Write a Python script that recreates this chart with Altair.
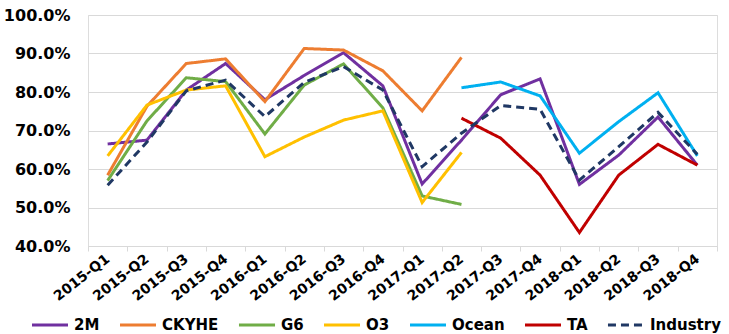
import altair as alt
import pandas as pd

# Quarterly capacity utilisation (%) by alliance, 2015-2018
quarters = [
    "2015-Q1", "2015-Q2", "2015-Q3", "2015-Q4",
    "2016-Q1", "2016-Q2", "2016-Q3", "2016-Q4",
    "2017-Q1", "2017-Q2", "2017-Q3", "2017-Q4",
    "2018-Q1", "2018-Q2", "2018-Q3", "2018-Q4",
]

m2 = [66.5, 67.5, 80.5, 87.4, 78.0, 84.3, 90.2, 81.6,
      56.1, 67.5, 79.3, 83.4, 56.0, 63.6, 73.5, 61.0]
ckyhe = [58.4, 76.3, 87.4, 88.6, 77.5, 91.3, 90.9, 85.5,
         75.1, 89.0, None, None, None, None, None, None]
g6 = [57.0, 72.5, 83.7, 82.7, 69.1, 81.8, 87.3, 75.9,
      53.0, 50.8, None, None, None, None, None, None]
o3 = [63.4, 76.6, 80.5, 81.6, 63.2, 68.3, 72.7, 75.1,
      51.3, 64.3, None, None, None, None, None, None]
ocean = [None, None, None, None, None, None, None, None,
         None, 81.1, 82.6, 79.0, 64.1, 72.3, 79.8, 63.4]
ta = [None, None, None, None, None, None, None, None,
      None, 73.2, 68.0, 58.4, 43.5, 58.4, 66.4, 61.0]
industry = [55.8, 67.0, 80.3, 83.1, 73.6, 82.5, 86.6, 80.5,
            60.6, 69.3, 76.5, 75.5, 57.1, 65.8, 74.7, 63.8]

series_names = ["2M", "CKYHE", "G6", "O3", "Ocean", "TA", "Industry"]
series_values = [m2, ckyhe, g6, o3, ocean, ta, industry]
series_colors = ["#7030A0", "#ED7D31", "#70AD47", "#FFC000", "#00B0F0", "#C00000", "#203864"]
series_dash = [[1, 0], [1, 0], [1, 0], [1, 0], [1, 0], [1, 0], [8, 5]]

rows = []
for name, values in zip(series_names, series_values):
    for q, v in zip(quarters, values):
        if v is not None:
            rows.append({"quarter": q, "series": name, "value": v / 100.0})
df = pd.DataFrame(rows)

FONT = "DejaVu Sans"

x_enc = alt.X(
    "quarter:N",
    sort=quarters,
    scale=alt.Scale(domain=quarters, paddingInner=0, paddingOuter=0),
    axis=alt.Axis(
        title=None,
        tickBand="extent",
        labelAngle=-38,
        labelAlign="right",
        labelBaseline="middle",
        labelPadding=6,
        labelFont=FONT,
        labelFontWeight="bold",
        labelFontSize=14,
        labelColor="#000000",
        domainColor="#D9D9D9",
        tickColor="#D9D9D9",
        tickSize=5,
        grid=False,
    ),
)

y_enc = alt.Y(
    "value:Q",
    scale=alt.Scale(domain=[0.4, 1.0], nice=False, zero=False),
    axis=alt.Axis(
        title=None,
        format=".1%",
        values=[0.4, 0.5, 0.6, 0.7, 0.8, 0.9, 1.0],
        labelFont=FONT,
        labelFontWeight="bold",
        labelFontSize=16,
        labelColor="#000000",
        labelPadding=18,
        domain=False,
        ticks=False,
        gridColor="#D9D9D9",
        gridWidth=1,
    ),
)

legend_opts = dict(
    title=None,
    orient="none",
    legendX=-58,
    legendY=290,
    direction="horizontal",
    symbolType="stroke",
    symbolSize=1300,
    symbolStrokeWidth=3,
    labelFont=FONT,
    labelFontWeight="bold",
    labelFontSize=15,
    labelColor="#000000",
    labelOffset=4,
    columnPadding=13,
)

color_enc = alt.Color(
    "series:N",
    sort=series_names,
    scale=alt.Scale(domain=series_names, range=series_colors),
    legend=alt.Legend(**legend_opts),
)

dash_enc = alt.StrokeDash(
    "series:N",
    sort=series_names,
    scale=alt.Scale(domain=series_names, range=series_dash),
    legend=alt.Legend(**legend_opts),
)

chart = (
    alt.Chart(df)
    .mark_line(strokeWidth=3, strokeJoin="miter")
    .encode(
        x=x_enc,
        y=y_enc,
        color=color_enc,
        strokeDash=dash_enc,
        order=alt.Order("series_order:Q"),
    )
    .transform_calculate(
        series_order="indexof(['2M','CKYHE','G6','O3','Ocean','TA','Industry'], datum.series)"
    )
    .properties(
        width=629,
        height=231,
        autosize=alt.AutoSizeParams(type="none"),
        padding={"left": 88, "top": 15, "right": 12, "bottom": 88},
    )
    .configure_view(stroke=None)
    .configure(background="#FFFFFF")
)

chart.save("out.html", embed_options={"renderer": "svg", "actions": False})
